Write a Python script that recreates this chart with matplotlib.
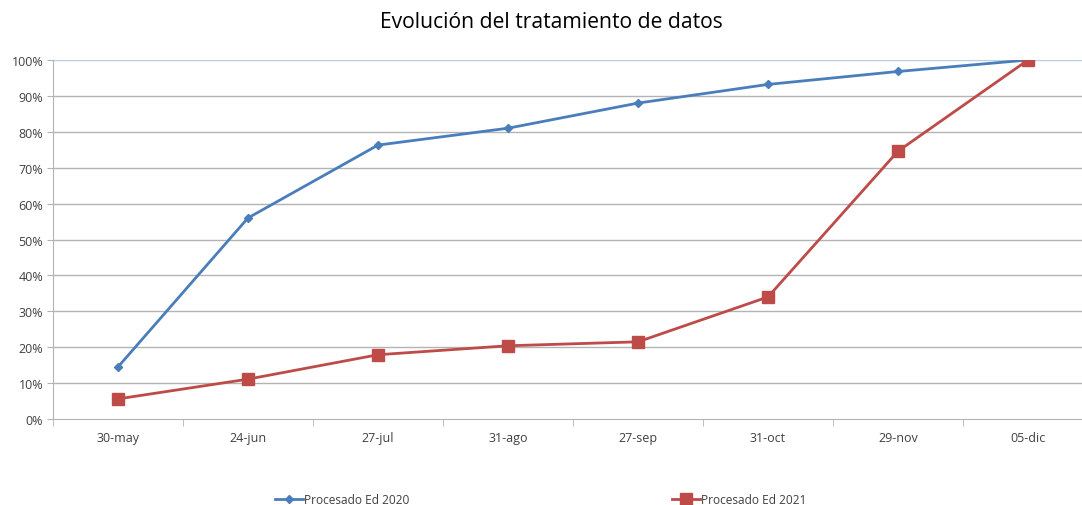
import matplotlib
matplotlib.use("Agg")
import matplotlib.pyplot as plt
from matplotlib.lines import Line2D
from matplotlib.ticker import FixedLocator, FuncFormatter

categories = ["30-may", "24-jun", "27-jul", "31-ago", "27-sep", "31-oct", "29-nov", "05-dic"]
ed2020 = [14.5, 56.0, 76.3, 81.0, 88.0, 93.2, 96.8, 100.0]
ed2021 = [5.6, 11.1, 17.9, 20.4, 21.5, 34.0, 74.6, 100.0]
yticks = [0, 10, 20, 30, 40, 50, 60, 70, 80, 90, 100]

blue = "#4a7ebb"
red = "#be4b48"
grid_c = "#b3b3b3"
text_c = "#404040"

plt.rcParams['font.family'] = ['Open Sans', 'DejaVu Sans']

W, H = 1082, 506
fig = plt.figure(figsize=(W / 100, H / 100), dpi=100)
ax = fig.add_axes([53 / W, (H - 420) / H, 1040 / W, 359 / H])

x = list(range(len(categories)))
ax.plot(x, ed2020, color=blue, lw=2.0, marker="D", ms=4.5, mfc=blue, mec=blue, zorder=3)
ax.plot(x, ed2021, color=red, lw=2.0, marker="s", ms=8.5, mfc=red, mec=red, zorder=3)

ax.set_xlim(-0.5, len(categories) - 0.5)
ax.set_ylim(0, 100)

ax.set_yticks(yticks)
ax.yaxis.set_major_formatter(FuncFormatter(lambda v, p: f"{int(v)}%"))
for v in yticks[1:]:
    ax.axhline(v, color=("#b9cde5" if v == 100 else grid_c), lw=1.0, zorder=1)

ax.set_xticks(x)
ax.set_xticklabels(categories)
ax.xaxis.set_minor_locator(FixedLocator([i + 0.5 for i in range(-1, len(categories))]))
ax.tick_params(axis="x", which="major", length=0, pad=9, labelsize=9, labelcolor=text_c)
ax.tick_params(axis="x", which="minor", length=5, color=grid_c, direction="out")
ax.tick_params(axis="y", which="major", length=4, color=grid_c, labelsize=9, labelcolor=text_c, pad=3)

for s in ["top", "right"]:
    ax.spines[s].set_visible(False)
ax.spines["left"].set_color(grid_c)
ax.spines["bottom"].set_color(grid_c)

fig.text(551 / W, 1 - 23 / H, "Evolución del tratamiento de datos", ha="center", va="center",
         fontsize=15.2, color="#000000")

h1 = Line2D([], [], color=blue, lw=2.0, marker="D", ms=4.5)
h2 = Line2D([], [], color=red, lw=2.0, marker="s", ms=8.5)
for h, lab, xp in [(h1, "Procesado Ed 2020", 270), (h2, "Procesado Ed 2021", 667)]:
    fig.legend([h], [lab], loc="center left", bbox_to_anchor=(xp / W, 1 - 501 / H),
               frameon=False, fontsize=8.6, handlelength=2.4, handletextpad=0.05,
               borderaxespad=0, labelcolor=text_c)

fig.savefig("out.png", dpi=100)
